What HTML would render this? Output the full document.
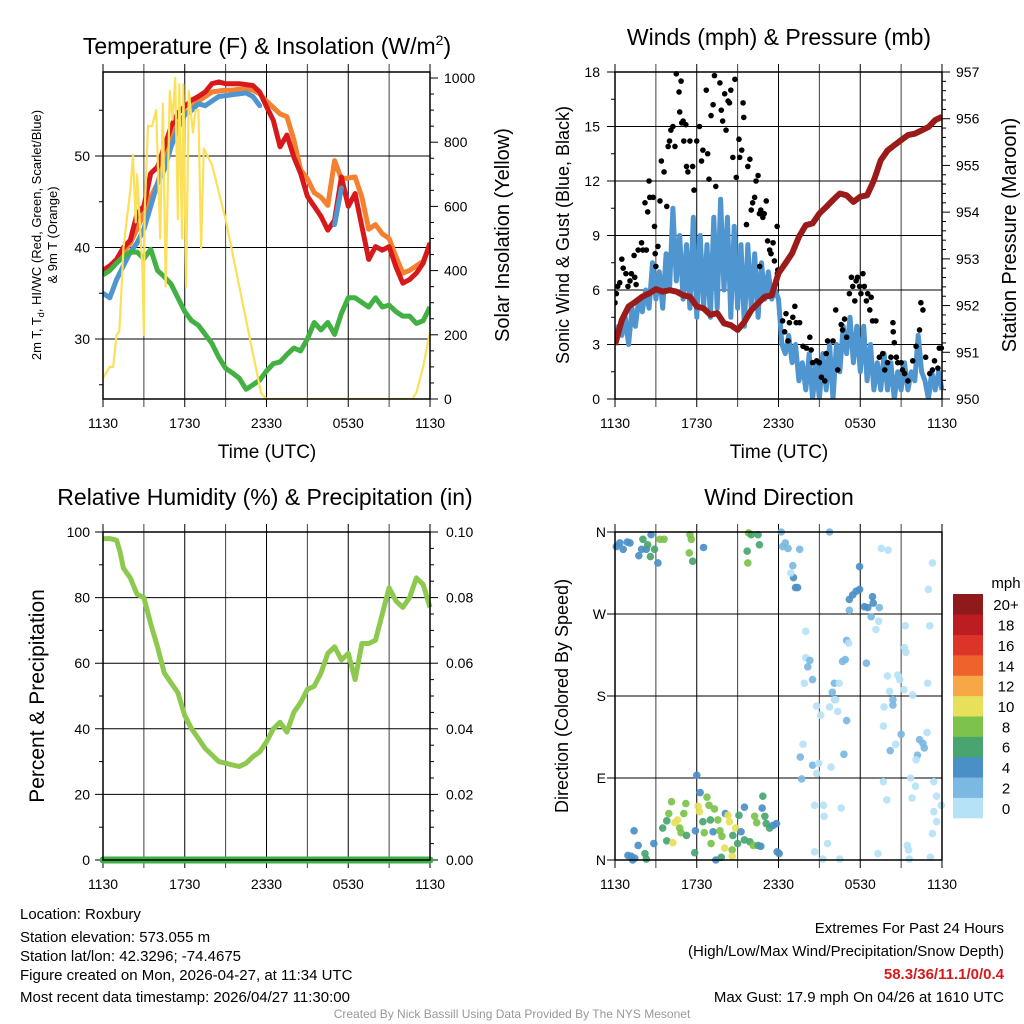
<!DOCTYPE html>
<html><head><meta charset="utf-8"><style>
html,body{margin:0;padding:0;background:#fff;}
svg{display:block;font-family:"Liberation Sans",sans-serif;}
</style></head><body>
<svg id="chart" width="1024" height="1024" viewBox="0 0 1024 1024" xmlns="http://www.w3.org/2000/svg">
<rect x="0" y="0" width="1024" height="1024" fill="#fff"/>
<text x="267" y="54" font-size="23" text-anchor="middle">Temperature (F) &amp; Insolation (W/m<tspan font-size="14" dy="-9">2</tspan><tspan dy="9">)</tspan></text>
<text x="779" y="45" font-size="23" text-anchor="middle">Winds (mph) &amp; Pressure (mb)</text>
<text x="265" y="505" font-size="23" text-anchor="middle">Relative Humidity (%) &amp; Precipitation (in)</text>
<text x="779" y="505" font-size="23" text-anchor="middle">Wind Direction</text>
<text transform="translate(41,235) rotate(-90)" font-size="13" text-anchor="middle">2m T, T<tspan font-size="9" dy="3">d</tspan><tspan dy="-3">, HI/WC (Red, Green, Scarlet/Blue)</tspan></text>
<text transform="translate(57,235) rotate(-90)" font-size="13" text-anchor="middle">&amp; 9m T (Orange)</text>
<text transform="translate(509,235) rotate(-90)" font-size="20" text-anchor="middle">Solar Insolation (Yellow)</text>
<text x="267" y="458" font-size="19" text-anchor="middle">Time (UTC)</text>
<text x="779" y="458" font-size="19" text-anchor="middle">Time (UTC)</text>
<text transform="translate(569,235) rotate(-90)" font-size="18" text-anchor="middle">Sonic Wind &amp; Gust (Blue, Black)</text>
<text transform="translate(1016,235) rotate(-90)" font-size="20" text-anchor="middle">Station Pressure (Maroon)</text>
<text transform="translate(44,696) rotate(-90)" font-size="21" text-anchor="middle">Percent &amp; Precipitation</text>
<text transform="translate(568,696) rotate(-90)" font-size="18" text-anchor="middle">Direction (Colored By Speed)</text>
<text x="1006" y="588" font-size="15" text-anchor="middle">mph</text>
<g font-size="15">
<text x="20" y="919">Location: Roxbury</text>
<text x="20" y="942">Station elevation: 573.055 m</text>
<text x="20" y="961">Station lat/lon: 42.3296; -74.4675</text>
<text x="20" y="980">Figure created on Mon, 2026-04-27, at 11:34 UTC</text>
<text x="20" y="1002">Most recent data timestamp: 2026/04/27 11:30:00</text>
</g>
<g font-size="15" text-anchor="end">
<text x="1004" y="933">Extremes For Past 24 Hours</text>
<text x="1004" y="956">(High/Low/Max Wind/Precipitation/Snow Depth)</text>
<text x="1004" y="979" fill="#d7191c" font-weight="bold">58.3/36/11.1/0/0.4</text>
<text x="1004" y="1002">Max Gust: 17.9 mph On 04/26 at 1610 UTC</text>
</g>
<text x="512" y="1018" font-size="12" fill="#999" text-anchor="middle">Created By Nick Bassill Using Data Provided By The NYS Mesonet</text>
</svg>
<script>
// ---- data ----
const timeLabels = ["1130","1730","2330","0530","1130"];
const hours = [0,0.5,1,1.5,2,2.5,3,3.5,4,4.5,5,5.5,6,6.5,7,7.5,8,8.5,9,9.5,10,10.5,11,11.5,12,12.5,13,13.5,14,14.5,15,15.5,16,16.5,17,17.5,18,18.5,19,19.5,20,20.5,21,21.5,22,22.5,23,23.5,24];
const tempRed = [37.5,38,38.7,40,40.8,43.7,44.5,48.1,48.8,51,53.2,54.7,55.4,56.1,56.5,57,57.9,58.1,57.9,57.9,57.9,57.8,57.7,57,55.4,53.9,51,52.3,49.9,48.1,45.6,44.5,43.4,41.9,43,47.7,44.5,45.9,42.3,38.7,40.1,39.7,40.1,37.9,36.1,36.5,37.2,38.3,40.5];
const temp9m = [37.2,37.8,38.5,39.5,40.5,42,43.8,45.5,47,49.5,51.8,53.5,54.5,55.3,56,56.5,57,57.1,57.2,57.2,57.3,57.3,57.2,56.8,56,55.3,54.6,54.3,51.8,48.5,47.5,46,45.5,44.6,49.5,47.5,47.6,47.7,45.5,42,42.5,41.5,41,39,37.2,37.5,38,38.5,40.3];
const tempHI = [35,34.5,36.5,38,39.5,40.5,42,44.5,47,48.5,51,53,54.5,55,55.7,55.5,56,56.5,56.6,56.7,56.8,56.9,56.5,55.5,null,null,null,null,null,null,null,null,null,null,42.5,46.5,null,43.5,null,null,null,null,null,null,null,null,null,null,null];
const dewpoint = [37,37.5,38.3,39,39.5,39.5,38.8,39.8,37.5,36.8,36,34.5,33,32,31.5,30.5,29.5,28,26.8,26.3,25.7,24.5,25,25.5,26.5,27.3,27.5,28.3,29,28.7,30,31.8,31,31.8,30.5,32.8,34.5,34.5,34,33.5,34.5,33.5,33.7,33,32.5,32.5,31.7,32,33.5];
const solarHours = [0,0.5,0.75,1,1.2,1.4,1.5,2,2.2,2.4,2.5,2.9,3,3.05,3.3,3.6,3.9,4.2,4.4,4.6,4.9,5.1,5.3,5.5,5.6,5.8,5.9,6.1,6.3,6.6,6.8,7,7.2,7.4,8,9,10,11,11.6,12,22.7,23,23.5,24];
const solarVals = [65,100,100,200,210,380,470,650,760,550,700,400,200,580,850,850,900,500,920,350,960,870,1000,560,980,500,980,350,960,830,900,900,470,780,730,560,350,142,18,0,0,20,100,210];
const windHours = [0,0.25,0.5,0.75,1,1.25,1.5,1.75,2,2.25,2.5,2.75,3,3.25,3.5,3.75,4,4.25,4.5,4.75,5,5.25,5.5,5.75,6,6.25,6.5,6.75,7,7.25,7.5,7.75,8,8.25,8.5,8.75,9,9.25,9.5,9.75,10,10.25,10.5,10.75,11,11.25,11.5,11.75,12,12.25,12.5,12.75,13,13.25,13.5,13.75,14,14.25,14.5,14.75,15,15.25,15.5,15.75,16,16.25,16.5,16.75,17,17.25,17.5,17.75,18,18.25,18.5,18.75,19,19.25,19.5,19.75,20,20.25,20.5,20.75,21,21.25,21.5,21.75,22,22.25,22.5,22.75,23,23.25,23.5,23.75,24];
const windVals = [3,4,3.5,4.5,3,5,4,5.5,4.8,6,5,7.5,5.5,7,5,8,6,10.5,6.5,9,5.5,8.5,5,10,4.5,9,5,8.5,4.5,10,5,11,6,10,4.5,9.5,5,8.5,4,8.5,5,8,4.5,7.5,5.5,7,5.5,6,5.5,3,2.5,3.5,2,3,1,2,0.5,2.5,0,2,0,2.5,0.5,3,0,3,1.5,4,2.5,4.5,2,4,1.5,4,1,3,0.5,2,0.5,2.5,0.5,2,0,1.5,0.5,2,0.5,1.5,1,3.5,1.5,1,0,1.5,0.5,1.5,0.5];
const gustHours = [0,0.1,0.2,0.35,0.5,0.6,0.8,0.95,1.1,1.2,1.45,1.55,1.4,1.7,1.95,2.05,2.3,2.2,2.5,2.55,2.4,2.8,2.9,2.95,3,3.15,3.3,3.4,3.6,3.8,3.9,4,4.1,4.25,4.4,4.5,4.7,4.75,4.85,4.9,5,5.2,5.05,5.25,5.35,5.5,5.7,5.8,6,6.2,6.35,6.45,6.7,6.8,6.9,7.05,7.2,7.3,7.4,7.7,7.8,7.9,8.05,8.15,8.3,8.4,8.5,8.65,8.8,8.9,9.1,9.15,9.3,9.4,9.45,9.65,9.75,9.9,10,10.1,10.25,10.35,10.5,10.6,10.7,10.85,10.95,11.1,11.2,11.35,11.45,11.6,11.7,11.9,11.92,10.62,11.95,12.3,12.45,12.55,12.7,12.8,13.05,13.2,13.3,13.55,13.8,14.05,14.3,14.4,14.5,14.8,15,15.15,15.4,15.5,15.6,16,16.2,16.35,16.6,16.7,16.85,17,17.2,17.35,17.45,17.6,17.7,17.8,17.95,18.05,18.2,18.3,18.45,18.55,18.7,18.8,18.9,19.15,19.4,19.65,19.8,20,20.25,20.4,20.42,20.5,20.65,20.75,21,21.1,21.25,21.5,21.85,22.1,22.35,22.45,22.6,22.8,23.1,23.3,23.45,23.7,23.8,23.95];
const gustVals = [5.3,5.8,6.2,6.4,7.7,7.2,6.9,6.2,6.5,6.9,6.7,6.3,7.9,8.2,8.6,8.2,8.2,10.8,12,11.1,10.3,11.1,9.5,8,7.3,8.4,10.9,13.1,12.5,10.6,13.9,14.2,14.8,15,13.9,17.9,16.9,15.8,17.5,15.2,15.3,15.1,14.2,12.8,12.5,14.2,12.8,11.5,14.2,15,13.1,13.7,17,13.5,12.1,15.6,16.2,17.8,11.7,17.4,15.9,15.3,16.8,14.8,16.4,16.3,17,13.3,17.6,12.2,14.3,13.3,13.7,16.3,15.5,9.6,12.8,13.2,10.4,10.8,11.1,12,12.3,10.2,10.4,10,10.2,10.9,8.7,8.2,8,8.6,7.6,9.5,6.9,7.3,7.1,4.3,3.7,4.7,3.2,4.2,4.5,5.1,4.2,4.2,2.9,2.8,3.4,2.7,2,2.1,2,1.2,1,2.5,3.2,3.2,4.9,1.6,4.1,3.8,4.4,3.4,5.8,6.7,6.2,5.4,6.5,6.7,6.2,5.8,6.9,6.2,5.4,5.8,4.9,5.6,4.3,4.3,2.3,2.5,1.6,2,2.3,4.2,3.7,3.1,2.3,2,2,1.6,1.4,1,2.1,2.9,3.8,5.3,4.9,2.3,1.4,1.6,2.1,1.7,2.8,2.8];
const pressure = [951.16,951.69,951.98,952.08,952.19,952.26,952.35,952.3,952.33,952.3,952.22,952.19,951.98,951.94,951.8,951.84,951.62,951.58,951.48,951.65,951.9,952.05,952.19,952.22,952.69,952.9,953.12,953.47,953.72,953.76,953.97,954.11,954.26,954.4,954.36,954.22,954.33,954.36,954.68,955.11,955.32,955.43,955.54,955.65,955.68,955.75,955.82,955.97,956.04];
const rhHours = [0,0.5,1,1.25,1.5,2,2.5,3,3.5,4,4.5,5,5.5,6,6.5,7,7.5,8,8.5,9,9.5,10,10.5,11,11.5,12,12.5,13,13.5,14,14.5,15,15.5,16,16.5,17,17.5,18,18.5,19,19.5,20,20.5,21,21.5,22,22.5,23,23.5,24];
const rhVals = [98,98,97.5,94,89,86,81,80,72,65,57,54,51,44,40,37,34,32,30,29.5,29,28.5,29.5,31.5,33,36,40,42,39,45,48,52,53,57,63,65,61,63,55,66,66,67,75,83,79,77,80,86,84,77];
const precipHours = [0,24];
const precipVals = [0,0];
const dirTimes = [0.1,0.35,0.6,0.9,1.1,1.75,1.95,2.3,2.65,3.15,2.05,2.4,2.6,2.9,3.3,3.6,5.5,5.6,5.45,5.7,6.5,9.8,10,10.5,9.7,10.6,9.75,12.2,12.5,12.7,12.3,13.55,13.05,13.1,13.25,13.4,12.9,15.75,17.95,17.2,17.45,17.7,17.95,18.3,18.55,18.9,18.95,19.4,18.8,19.35,19.15,17.2,19.55,20.05,23.3,23,23.1,21.3,14,14,14.3,14.15,14.5,13.9,17,17.15,16.7,16.9,18.45,16.1,16.45,15.95,16.1,16.2,15.75,16.35,17,14.8,15.1,13.8,13.6,14.5,14.95,14.8,15.85,13.7,16.8,20,20.75,20.9,20.15,20.4,20.4,19.75,21.85,21.2,22.95,21.25,21.35,19.7,21,20.6,20.2,22.35,22.6,22.7,22.2,22.1,22.9,14.65,15.3,15.35,16.6,15.6,14.65,15.25,16.5,19.7,19.95,19.3,21.7,22.05,21.8,21.45,21.55,21.6,23.15,23.4,23.6,23.95,23.4,23.6,23.3,0.95,1.2,1.45,1.3,1.4,1.7,2.2,2.3,2.85,3.8,3.5,3.8,3.95,4.15,4.25,4.4,4.6,4.75,4.85,5.05,5.2,5.25,5.85,5.9,6,6.1,6.2,6.25,6.45,6.55,6.75,6.9,7,7.05,7.2,7.3,7.55,7.7,7.85,8.05,8.1,8.3,8.4,8.6,8.65,8.85,8.6,9,9.1,9.25,9.5,9.5,9.9,10.15,10.25,10.4,10.5,10.7,10.8,10.85,11,11.1,11.35,11.6,11.85,11.9,12.05,7.4,7.8];
const dirDegs = [344,348,341,349,348,334,341,341,357,326,352,346,333,341,352,352,357,352,337,328,343,359,357,357,339,346,326,360,348,342,344,341,323,310,299,299,315,360,322,286,291,295,297,278,277,289,282,277,267,262,253,274,342,340,326,297,257,257,251,222,219,212,198,194,241,238,218,220,216,194,194,184,176,176,168,163,153,169,159,127,113,104,106,95,102,89,116,202,203,198,185,176,170,168,181,187,194,233,228,147,138,127,120,132,128,123,115,110,140,60,60,48,57,18,9,1,1,86,66,7,90,81,68,16,11,1,3,86,70,60,53,42,29,5,4,2,0,32,16,7,1,18,21,35,43,51,64,19,41,44,35,30,51,62,27,8,32,93,59,53,74,42,30,69,60,44,18,31,56,44,32,26,13,51,49,42,11,27,35,4,18,49,31,58,22,20,16,48,41,16,15,57,70,48,40,35,38,40,9,7,0,3];
const dirSpeeds = [4,4,4,4,4,4,4,4,4,4,7,7,6,6,8,8,8,8,8,6,4,8,6,6,6,6,8,3,2,2,2,2,2,4,4,4,1,2,4,4,4,4,4,4,4,4,4,3,2,1,1,2,0,0,0,0,0,0,0,1,2,2,2,0,2,1,2,2,3,2,0,2,1,1,1,1,3,1,0,0,3,3,0,0,0,3,3,1,0,0,0,2,3,0,0,0,0,0,0,0,2,0,3,2,2,2,2,0,0,0,0,0,0,0,0,0,0,0,0,0,0,0,0,0,0,0,0,0,0,0,0,0,0,4,4,4,4,4,4,6,6,4,6,6,6,8,8,10,10,10,8,8,8,8,6,6,4,4,10,10,4,6,8,8,8,6,8,4,8,8,8,8,10,4,10,10,8,6,10,10,6,6,4,4,6,6,8,8,8,6,4,4,6,6,6,6,4,4,4,4,4,6];
const cbLabels = ["0","2","4","6","8","10","12","14","16","18","20+"];
const cbColors = ["#b5e2f7","#7bb9e3","#4a8fc6","#48a56f","#7cc24c","#e6e05a","#f6a847","#ef622c","#dd3429","#bd1c23","#8f1a1c"];

// ---- helpers ----
const NS = "http://www.w3.org/2000/svg";
const svg = document.getElementById("chart");
function mk(tag, attrs, parent){ const e=document.createElementNS(NS,tag); for(const k in attrs) e.setAttribute(k,attrs[k]); (parent||svg).appendChild(e); return e; }
function panel(L,R,T,B){ return {L,R,T,B,x:h=>L+h/24*(R-L)}; }
const P1=panel(103,430,72,399), P2=panel(615,942,72,399), P3=panel(103,430,532,860), P4=panel(615,942,532,860);
const yT=v=>156+(50-v)*9.15, yS=v=>399-v*0.321;
const yW=v=>399-v*(327/18), yP=p=>399-(p-950)*(327/7);
const yR=v=>860-v*3.28, yPr=v=>860-v*3280;
const yD=d=>860-d/360*328;

function timeAxis(P, name){
  for(let i=0;i<=8;i++){
    const x=P.x(i*3);
    const g=mk("line",{x1:x,y1:P.T-8,x2:x,y2:P.B+8,stroke:"#000","stroke-width":1,"stroke-opacity":i%2?0.75:1});
    
    
  }
  timeLabels.forEach((t,i)=>{
    const tx=mk("text",{x:P.x(i*6),y:P.B+29,"font-size":14,"text-anchor":"middle"});
    tx.textContent=t;
    
    
  });
}
function hGrid(P, ys, labels, name, lx){
  ys.forEach((y,i)=>{
    const ln=mk("line",{x1:P.L-8,y1:y,x2:P.R,y2:y,stroke:"#000","stroke-width":1});
    
    
    const tx=mk("text",{x:lx,y:y+5,"font-size":14,"text-anchor":"end"});
    tx.textContent=labels[i];
    
    
  });
}
function rightAxis(P, ys, labels, name, lx){
  ys.forEach((y,i)=>{
    const t=mk("line",{x1:P.R,y1:y,x2:P.R+8,y2:y,stroke:"#000","stroke-width":1});
    
    
    const tx=mk("text",{x:lx,y:y+5,"font-size":14,"text-anchor":"start"});
    tx.textContent=labels[i];
    
    
  });
}
function ticks(P, ys, side, len, name){
  ys.forEach(y=>{
    const x0=side==="left"?P.L:P.R, x1=side==="left"?P.L-len:P.R+len;
    const t=mk("line",{x1:x0,y1:y,x2:x1,y2:y,stroke:"#000","stroke-width":1});
    
    
  });
}
function frame(P,name){
  const r=mk("rect",{x:P.L,y:P.T,width:P.R-P.L,height:P.B-P.T,fill:"none",stroke:"#000","stroke-width":1.5});
  
  
}
function pathFrom(xs, ys, fx, fy){
  let d="", pen=false;
  for(let i=0;i<xs.length;i++){
    if(ys[i]===null||ys[i]===undefined){pen=false;continue;}
    d+=(pen?"L":"M")+fx(xs[i]).toFixed(1)+","+fy(ys[i]).toFixed(1);
    pen=true;
  }
  return d;
}

// ---- Panel 1: temperature ----
timeAxis(P1,"temperature");
hGrid(P1,[yT(30),yT(40),yT(50)],["30","40","50"],"temperature-left",90);
ticks(P1,[yT(25),yT(35),yT(45),yT(55)],"left",4,"temperature-left-minor");
rightAxis(P1,[0,200,400,600,800,1000].map(yS),["0","200","400","600","800","1000"],"insolation-right",444);
ticks(P1,[50,100,150,250,300,350,450,500,550,650,700,750,850,900,950].map(yS),"right",4,"insolation-minor");
const clip1=mk("clipPath",{id:"c1"}); mk("rect",{x:P1.L,y:P1.T,width:P1.R-P1.L,height:P1.B-P1.T},clip1);
const g1=mk("g",{"clip-path":"url(#c1)"});


const lOr=mk("path",{d:pathFrom(hours,temp9m,P1.x,yT),fill:"none",stroke:"#f4812f","stroke-width":5,"stroke-linejoin":"round"},g1);


const lRed=mk("path",{d:pathFrom(hours,tempRed,P1.x,yT),fill:"none",stroke:"#d7191c","stroke-width":5,"stroke-linejoin":"round"},g1);


const lHI=mk("path",{d:pathFrom(hours,tempHI,P1.x,yT),fill:"none",stroke:"#4f95cf","stroke-width":5,"stroke-linejoin":"round","stroke-linecap":"round"},g1);


const lGr=mk("path",{d:pathFrom(hours,dewpoint,P1.x,yT),fill:"none",stroke:"#43b043","stroke-width":5,"stroke-linejoin":"round"},g1);


const lSol=mk("path",{d:pathFrom(solarHours,solarVals,P1.x,yS),fill:"none",stroke:"#fbe05c","stroke-width":2.2,"stroke-linejoin":"round"},g1);


frame(P1,"temperature");

// ---- Panel 2: winds ----
timeAxis(P2,"winds");
hGrid(P2,[0,3,6,9,12,15,18].map(yW),["0","3","6","9","12","15","18"],"wind-left",600);
ticks(P2,[1.5,4.5,7.5,10.5,13.5,16.5].map(yW),"left",4,"wind-minor");
rightAxis(P2,[950,951,952,953,954,955,956,957].map(yP),["950","951","952","953","954","955","956","957"],"pressure-right",956);
ticks(P2,[950.2,950.4,950.6,950.8,951.2,951.4,951.6,951.8,952.2,952.4,952.6,952.8,953.2,953.4,953.6,953.8,954.2,954.4,954.6,954.8,955.2,955.4,955.6,955.8,956.2,956.4,956.6,956.8].map(yP),"right",4,"pressure-minor");
const clip2=mk("clipPath",{id:"c2"}); mk("rect",{x:P2.L,y:P2.T-4,width:P2.R-P2.L+4,height:P2.B-P2.T+4},clip2);
const g2=mk("g",{"clip-path":"url(#c2)"});


const lW=mk("path",{d:pathFrom(windHours,windVals,P2.x,yW),fill:"none",stroke:"#4f95cf","stroke-width":5,"stroke-linejoin":"round"},g2);


gustHours.forEach((h,i)=>{
  const c=mk("circle",{cx:P2.x(h),cy:yW(gustVals[i]),r:2.8,fill:"#000"},g2);
  
  
});
const lP=mk("path",{d:pathFrom(hours,pressure,P2.x,yP),fill:"none",stroke:"#9b1b1b","stroke-width":6,"stroke-linejoin":"round"},g2);


frame(P2,"winds");

// ---- Panel 3: humidity ----
timeAxis(P3,"humidity");
hGrid(P3,[0,20,40,60,80,100].map(yR),["0","20","40","60","80","100"],"humidity-left",90);
ticks(P3,[10,30,50,70,90].map(yR),"left",4,"humidity-minor");
rightAxis(P3,[0,0.02,0.04,0.06,0.08,0.1].map(yPr),["0.00","0.02","0.04","0.06","0.08","0.10"],"precip-right",446);
ticks(P3,[0.005,0.01,0.015,0.025,0.03,0.035,0.045,0.05,0.055,0.065,0.07,0.075,0.085,0.09,0.095].map(yPr),"right",4,"precip-minor");
const lRH=mk("path",{d:pathFrom(rhHours,rhVals,P3.x,yR),fill:"none",stroke:"#8dc94f","stroke-width":5,"stroke-linejoin":"round"});


const lPr=mk("path",{d:pathFrom(precipHours,precipVals,P3.x,yPr),fill:"none",stroke:"#3daf48","stroke-width":7,"stroke-linecap":"round"});


frame(P3,"humidity");

// ---- Panel 4: wind direction ----
timeAxis(P4,"direction");
hGrid(P4,[0,90,180,270,360].map(yD),["N","E","S","W","N"],"direction-left",606);
dirTimes.forEach((h,i)=>{
  const bin=Math.min(10,Math.floor(dirSpeeds[i]/2));
  const c=mk("circle",{cx:P4.x(h),cy:yD(dirDegs[i]),r:3.8,fill:cbColors[bin],"fill-opacity":0.92});
  
  
});
frame(P4,"direction");
const cbH=(818-594)/cbLabels.length;
cbLabels.forEach((lab,i)=>{
  const y=818-(i+1)*cbH;
  const r=mk("rect",{x:953,y:y,width:30,height:cbH+0.3,fill:cbColors[i]});
  
  
  const t=mk("text",{x:1006,y:y+cbH/2+6,"font-size":15,"text-anchor":"middle"});
  t.textContent=lab;
  
  
});
</script>
</body></html>
